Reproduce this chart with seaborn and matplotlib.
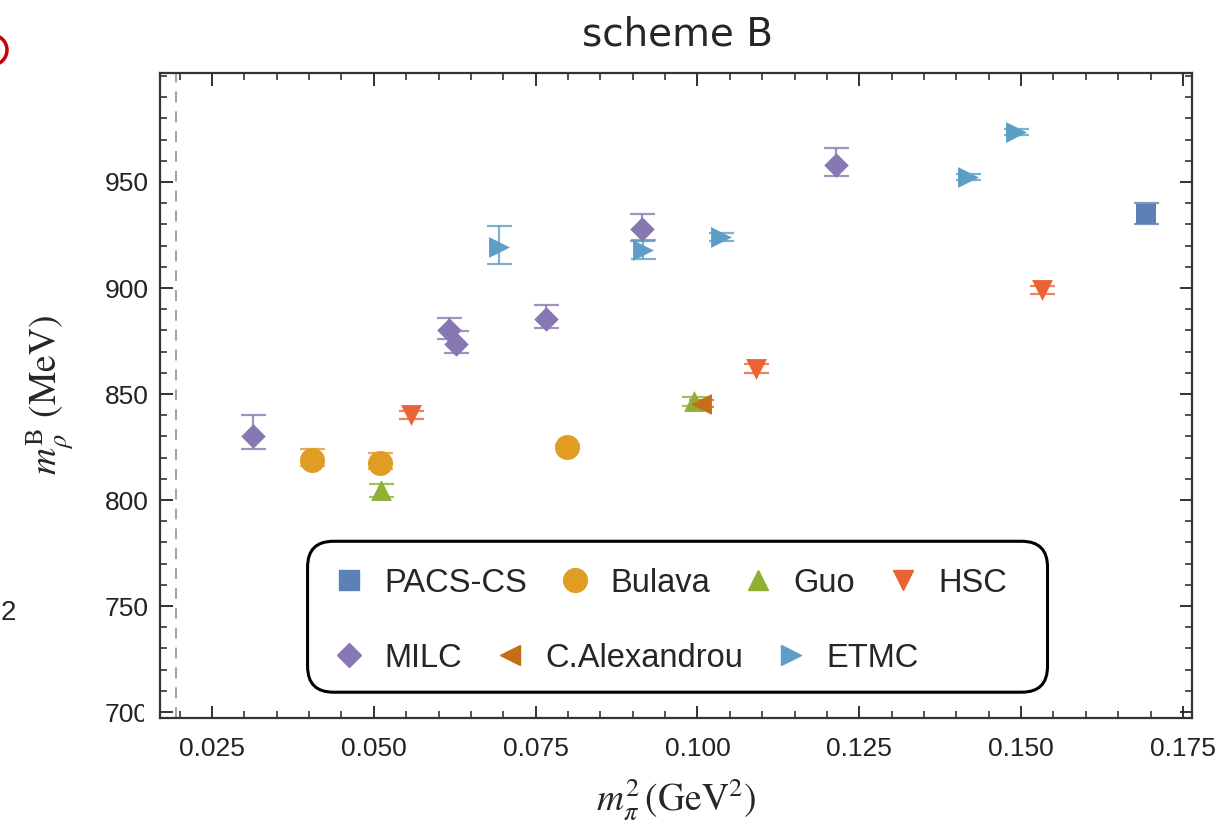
import numpy as np
import pandas as pd
import matplotlib
matplotlib.use('Agg')
import matplotlib.pyplot as plt
import seaborn as sns
from matplotlib.lines import Line2D
from matplotlib.patches import FancyBboxPatch, Ellipse, Rectangle
from matplotlib.ticker import MultipleLocator, FormatStrFormatter

sns.set_style('ticks')
plt.rcParams['font.family'] = ['Liberation Sans', 'DejaVu Sans']
plt.rcParams['mathtext.fontset'] = 'stix'

# ---- data (m_pi^2 in GeV^2, m_rho in MeV) ----
collabs = ['PACS-CS', 'Bulava', 'Guo', 'HSC', 'MILC', 'C.Alexandrou', 'ETMC']

pacs_x = [0.1693]
pacs_y = [935.0]
pacs_lo = [5.0]
pacs_hi = [5.0]

bulava_x = [0.0404, 0.0510, 0.0798]
bulava_y = [818.9, 817.4, 825.0]
bulava_lo = [3.0, 3.0, 1.0]
bulava_hi = [5.0, 5.0, 1.0]

guo_x = [0.0511, 0.0995]
guo_y = [804.5, 846.5]
guo_lo = [3.0, 2.0]
guo_hi = [3.0, 2.0]

hsc_x = [0.0557, 0.1090, 0.1532]
hsc_y = [840.0, 862.0, 899.0]
hsc_lo = [2.0, 2.0, 2.0]
hsc_hi = [2.0, 2.0, 2.0]

milc_x = [0.0313, 0.0616, 0.0627, 0.0766, 0.0914, 0.1214]
milc_y = [830.0, 880.0, 873.5, 885.5, 928.0, 958.0]
milc_lo = [6.0, 4.0, 4.0, 4.5, 6.0, 5.0]
milc_hi = [10.0, 6.0, 6.0, 6.5, 7.0, 8.0]

alex_x = [0.1005]
alex_y = [845.5]
alex_lo = [1.5]
alex_hi = [1.5]

etmc_x = [0.0693, 0.0916, 0.1036, 0.1418, 0.1492]
etmc_y = [919.3, 918.0, 924.0, 952.4, 973.6]
etmc_lo = [8.0, 4.5, 2.0, 1.5, 1.5]
etmc_hi = [10.0, 4.5, 2.0, 1.5, 1.5]

xticks = [0.025, 0.050, 0.075, 0.100, 0.125, 0.150, 0.175]
yticks = [700, 750, 800, 850, 900, 950]

rows = []
for name, xs, ys, lo, hi in [
        ('PACS-CS', pacs_x, pacs_y, pacs_lo, pacs_hi),
        ('Bulava', bulava_x, bulava_y, bulava_lo, bulava_hi),
        ('Guo', guo_x, guo_y, guo_lo, guo_hi),
        ('HSC', hsc_x, hsc_y, hsc_lo, hsc_hi),
        ('MILC', milc_x, milc_y, milc_lo, milc_hi),
        ('C.Alexandrou', alex_x, alex_y, alex_lo, alex_hi),
        ('ETMC', etmc_x, etmc_y, etmc_lo, etmc_hi)]:
    for x, y, l, h in zip(xs, ys, lo, hi):
        rows.append({'collab': name, 'x': x, 'y': y, 'lo': l, 'hi': h})
df = pd.DataFrame(rows)

# Mathematica default colours / markers
colors = {'PACS-CS': '#5E81B5', 'Bulava': '#E19C24', 'Guo': '#8FB032',
          'HSC': '#EB6235', 'MILC': '#8778B3', 'C.Alexandrou': '#C56E1A',
          'ETMC': '#5D9EC7'}
markers = {'PACS-CS': 's', 'Bulava': 'o', 'Guo': '^', 'HSC': 'v',
           'MILC': 'D', 'C.Alexandrou': '<', 'ETMC': '>'}
msize = {'PACS-CS': 15, 'Bulava': 18, 'Guo': 15, 'HSC': 15,
         'MILC': 12.5, 'C.Alexandrou': 15, 'ETMC': 15}

fig, ax = plt.subplots(figsize=(12.21, 8.30), dpi=100)
fig.subplots_adjust(left=160/1221, right=1192/1221, top=1-73/830, bottom=1-718/830)

ax.axvline(0.0195, color='#999999', ls=(0, (6, 5)), lw=1.3, zorder=1)

for name in collabs:
    sub = df[df['collab'] == name]
    ax.errorbar(sub['x'], sub['y'], yerr=[sub['lo'], sub['hi']], fmt='none',
                ecolor=colors[name], elinewidth=1.6, capsize=9, capthick=1.6,
                alpha=0.8, zorder=2)
    sns.scatterplot(data=sub, x='x', y='y', marker=markers[name],
                    s=msize[name] ** 2, color=colors[name], linewidth=0,
                    ax=ax, zorder=3, legend=False)

ax.set_xlim(0.01697, 0.1764)
ax.set_ylim(697.2, 1001.4)
ax.set_xticks(xticks)
ax.set_yticks(yticks)
ax.xaxis.set_major_formatter(FormatStrFormatter('%.3f'))
ax.xaxis.set_minor_locator(MultipleLocator(0.005))
ax.yaxis.set_minor_locator(MultipleLocator(10))
ax.tick_params(which='both', direction='in', top=True, right=True,
               colors='#222222', labelcolor='#222222', labelsize=19)
ax.tick_params(which='major', length=9, width=1.3)
ax.tick_params(which='minor', length=5, width=1.1)
ax.tick_params(axis='x', pad=14)
ax.tick_params(axis='y', pad=8)
for sp in ax.spines.values():
    sp.set_color('#333333')
    sp.set_linewidth(1.6)

ax.set_xlabel(r'$m_\pi^2\,(\mathrm{GeV}^2)$', fontsize=27)
ax.set_ylabel(r'$m_\rho^{\mathrm{B}}\ (\mathrm{MeV})$', fontsize=27)
ax.xaxis.set_label_coords(0.5, -(800 - 718) / 645)
ax.xaxis.label.set_va('center')
ax.yaxis.set_label_coords((50 - 160) / 1032, 0.5)
ax.yaxis.label.set_va('center')

fig.text(0.555, 1 - 35/830, 'scheme B', fontsize=28, family='DejaVu Sans',
         ha='center', va='center')

# legend box with two free-flowing rows
box = FancyBboxPatch((0.143, 0.040), 0.717, 0.234,
                     boxstyle='round,pad=0,rounding_size=0.025',
                     mutation_aspect=1032/645, transform=ax.transAxes,
                     facecolor='white', edgecolor='black', lw=2.2, zorder=5)
ax.add_patch(box)


def handles_for(names):
    return [Line2D([], [], marker=markers[n], color=colors[n], ls='none',
                   markersize=msize[n] * 0.95) for n in names]


leg_kw = dict(loc='center left', frameon=False, fontsize=23.5,
              handlelength=1.0, handletextpad=0.6, columnspacing=0.95,
              borderpad=0, borderaxespad=0)
row1 = ['PACS-CS', 'Bulava', 'Guo', 'HSC']
row2 = ['MILC', 'C.Alexandrou', 'ETMC']
leg1 = ax.legend(handles_for(row1), row1, ncol=4,
                 bbox_to_anchor=(0.167, 0.209), **leg_kw)
leg1.set_zorder(6)
ax.add_artist(leg1)
leg2 = ax.legend(handles_for(row2), row2, ncol=3,
                 bbox_to_anchor=(0.167, 0.093), **leg_kw)
leg2.set_zorder(6)

# fragments of the neighbouring panel at the left edge
fig.add_artist(Ellipse((-8/1221, 1 - 50/830), 30/1221, 30/830,
                       transform=fig.transFigure, fill=False,
                       edgecolor='#CC0000', lw=2.5))
fig.text(1/1221, 1 - 613/830, '2', fontsize=20, ha='left', va='center')
fig.add_artist(Rectangle((144/1221, 1 - 730/830), 14/1221, 28/830,
                         transform=fig.transFigure, facecolor='white',
                         edgecolor='none', zorder=10))

fig.savefig('out.png', dpi=100)
